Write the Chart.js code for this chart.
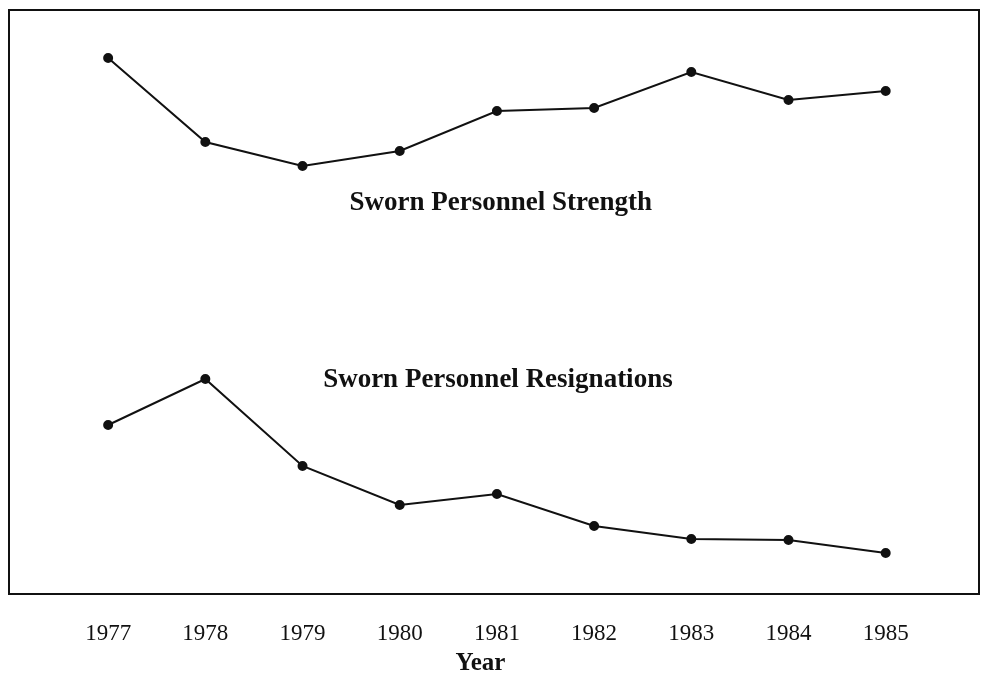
<!DOCTYPE html>
<html>
<head>
<meta charset="utf-8">
<script src="https://cdn.jsdelivr.net/npm/chart.js@4"></script>
<style>
  html, body { margin: 0; padding: 0; background: #fff; }
  #wrap { width: 985px; height: 674px; }
</style>
</head>
<body>
<div id="wrap"><canvas id="chart"></canvas></div>
<script>
// years on the x axis
const years = [1977, 1978, 1979, 1980, 1981, 1982, 1983, 1984, 1985];
// no y scale is printed, so values are read as relative heights (0 = bottom of the frame)
const strength = [536, 452, 428, 443, 483, 486, 522, 494, 503];
const resignations = [169, 215, 128, 89, 100, 68, 55, 54, 41];
const seriesLabels = ['Sworn Personnel Strength', 'Sworn Personnel Resignations'];
const xTitle = 'Year';

const serif = '"Liberation Serif", "DejaVu Serif", serif';

// frame around the plot area, the in-plot series labels and the axis title
const framePlugin = {
    id: 'frame',
    afterDraw(chart) {
        const { ctx, chartArea: a, scales } = chart;
        ctx.save();
        ctx.strokeStyle = '#111';
        ctx.lineWidth = 2;
        ctx.strokeRect(a.left, a.top, a.right - a.left, a.bottom - a.top);

        ctx.fillStyle = '#111';
        ctx.font = 'bold 27px ' + serif;
        ctx.textAlign = 'center';
        ctx.textBaseline = 'middle';
        ctx.fillText(seriesLabels[0], scales.x.getPixelForValue(1981.04), scales.y.getPixelForValue(391));
        ctx.fillText(seriesLabels[1], scales.x.getPixelForValue(1981.01), scales.y.getPixelForValue(214));

        // "Year" sits a little left of the plot centre in the original
        ctx.font = 'bold 25px ' + serif;
        ctx.fillText(xTitle, scales.x.getPixelForValue(1980.83), a.bottom + 70);
        ctx.restore();
    }
};

const toPoints = arr => arr.map((v, i) => ({ x: years[i], y: v }));

const lineStyle = {
    borderColor: '#111',
    backgroundColor: '#111',
    borderWidth: 2,
    pointRadius: 4,
    pointHoverRadius: 4,
    tension: 0,
    fill: false,
    clip: false
};

new Chart(document.getElementById('chart').getContext('2d'), {
    type: 'line',
    data: {
        datasets: [
            Object.assign({ label: seriesLabels[0], data: toPoints(strength) }, lineStyle),
            Object.assign({ label: seriesLabels[1], data: toPoints(resignations) }, lineStyle)
        ]
    },
    options: {
        responsive: true,
        maintainAspectRatio: false,
        animation: false,
        layout: { padding: { left: 9, top: 10, right: 6, bottom: 0 } },
        plugins: {
            legend: { display: false },
            tooltip: { enabled: false }
        },
        scales: {
            x: {
                type: 'linear',
                min: 1975.98,
                max: 1985.96,
                afterBuildTicks: axis => { axis.ticks = years.map(v => ({ value: v })); },
                grid: { display: false, drawTicks: false },
                border: { display: false },
                ticks: {
                    color: '#111',
                    padding: 28.5,
                    maxRotation: 0,
                    autoSkip: false,
                    font: { family: serif, size: 23, lineHeight: 1.0 },
                    callback: v => String(v)
                },
                title: { display: false }
            },
            y: {
                display: false,
                min: 0,
                max: 584
            }
        }
    },
    plugins: [framePlugin]
});
</script>
</body>
</html>
